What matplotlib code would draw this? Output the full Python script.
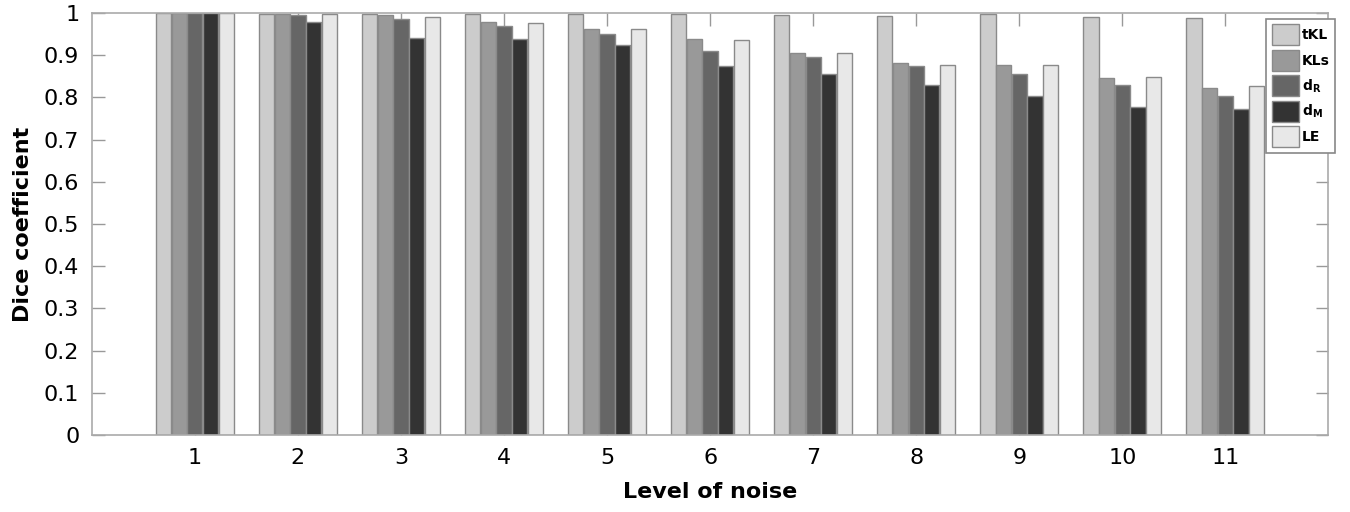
import matplotlib
matplotlib.use("Agg")
import matplotlib.pyplot as plt
import numpy as np

plt.rcParams['font.family'] = ['DejaVu Sans']
plt.rcParams['mathtext.fontset'] = 'dejavusans'

levels = [1, 2, 3, 4, 5, 6, 7, 8, 9, 10, 11]
series_names = ['tKL', 'KLs', r'd$_{\mathbf{R}}$', r'd$_{\mathbf{M}}$', 'LE']
tKL = [1.0, 0.998, 0.998, 0.998, 0.998, 0.996, 0.994, 0.993, 0.998, 0.991, 0.987]
KLs = [1.0, 0.998, 0.994, 0.979, 0.961, 0.938, 0.904, 0.882, 0.876, 0.845, 0.823]
dR = [1.0, 0.994, 0.986, 0.968, 0.950, 0.910, 0.895, 0.873, 0.856, 0.829, 0.803]
dM = [1.0, 0.979, 0.941, 0.939, 0.924, 0.874, 0.855, 0.829, 0.803, 0.778, 0.773]
LE = [1.0, 0.998, 0.989, 0.977, 0.961, 0.936, 0.906, 0.876, 0.876, 0.847, 0.827]
colors = ['#cccccc', '#999999', '#666666', '#333333', '#e8e8e8']
yticks = [0, 0.1, 0.2, 0.3, 0.4, 0.5, 0.6, 0.7, 0.8, 0.9, 1]
ytick_labels = ['0', '0.1', '0.2', '0.3', '0.4', '0.5', '0.6', '0.7', '0.8', '0.9', '1']

fig = plt.figure(figsize=(13.5, 5.12), dpi=100)
ax = fig.add_axes([0.068, 0.150, 0.916, 0.825])

x = np.array(levels, dtype=float)
data = [tKL, KLs, dR, dM, LE]
w = 0.148
offs = (np.arange(5) - 2) * 0.152
for i, (vals, c, name) in enumerate(zip(data, colors, series_names)):
    ax.bar(x + offs[i], vals, width=w, color=c, edgecolor='#8a8a8a',
           linewidth=1.0, label=name, zorder=2)

ax.set_xlim(0, 12)
ax.set_ylim(0, 1)
ax.set_xticks(levels)
ax.set_xticklabels([str(v) for v in levels])
ax.set_yticks(yticks)
ax.set_yticklabels(ytick_labels)
ax.tick_params(direction='in', length=9, width=1.0, color='#999999',
               labelsize=16, top=True, right=True, pad=9)
for s in ax.spines.values():
    s.set_color('#aaaaaa')
    s.set_linewidth(1.2)

ax.set_xlabel('Level of noise', fontsize=16, fontweight='bold', labelpad=10)
ax.set_ylabel('Dice coefficient', fontsize=16, fontweight='bold', labelpad=8)

leg = ax.legend(loc='upper right', bbox_to_anchor=(1.0055, 0.986),
                prop={'size': 10, 'weight': 'bold'}, handlelength=1.95,
                handleheight=1.95, labelspacing=0.32, handletextpad=0.2,
                borderpad=0.4, borderaxespad=0.0, fancybox=False,
                framealpha=1.0, edgecolor='#888888')
leg.get_frame().set_linewidth(1.2)

fig.savefig('out.png', dpi=100)
